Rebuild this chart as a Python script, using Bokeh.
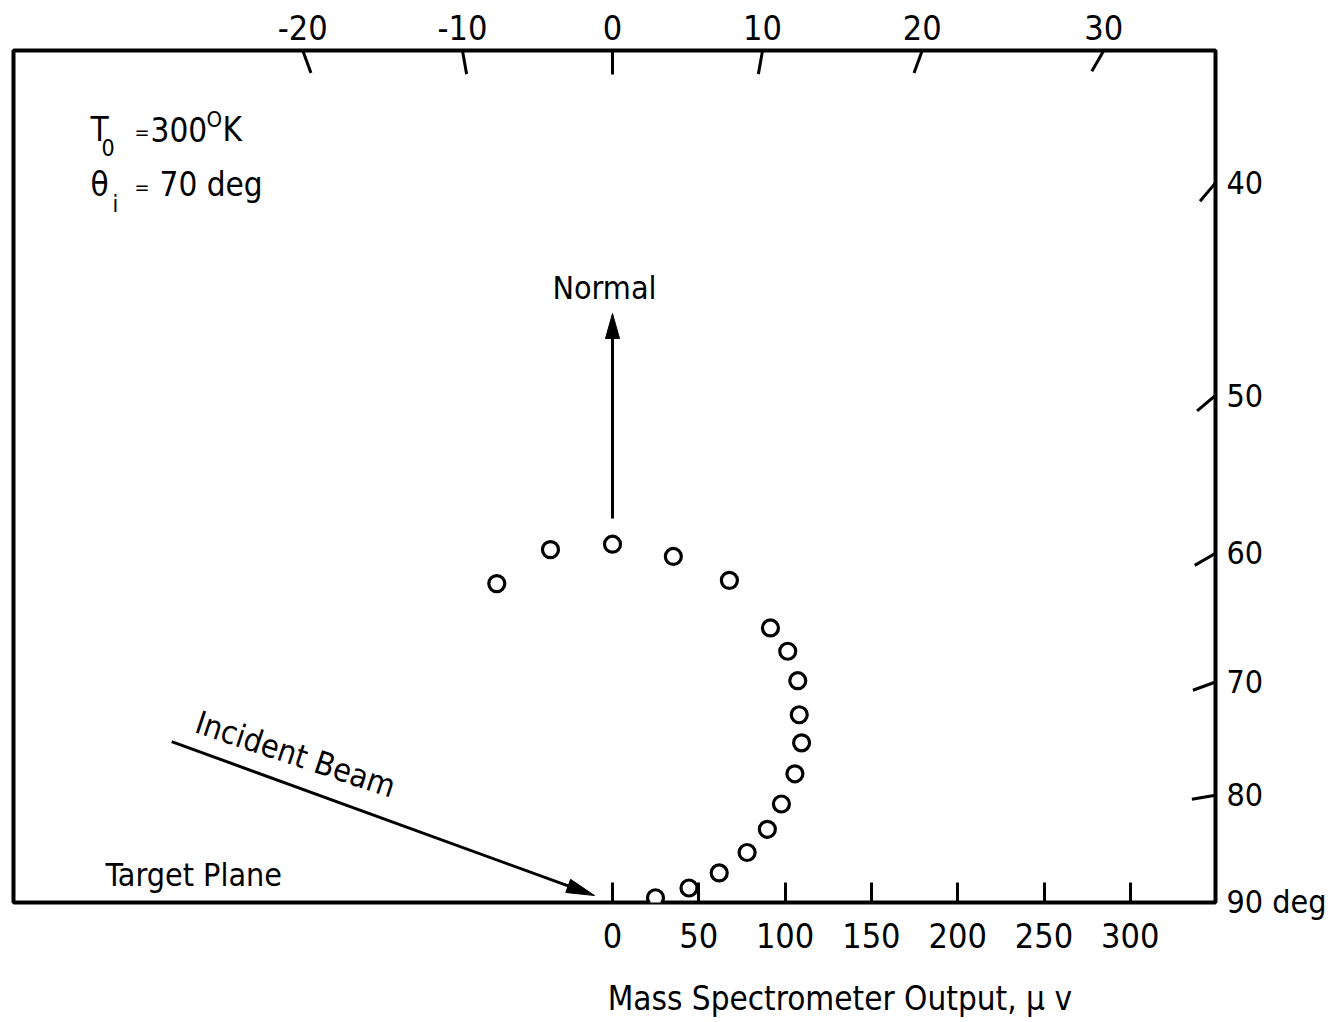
import numpy as np
from bokeh.plotting import figure
from bokeh.models import Range1d, LinearAxis, FixedTicker
from bokeh.core.properties import value
from bokeh.embed import file_html
from bokeh.resources import INLINE

# ---------------- data ----------------
angles_deg = [-20, -10, 0, 10, 20, 30, 35, 40, 45, 50, 55, 60, 65, 70, 75, 80, 85]
output_uv = [196, 207, 207, 203, 198, 183, 177, 167, 153, 143, 129, 113, 99, 83, 64, 45, 25]

top_tick_angles = [-20, -10, 0, 10, 20, 30]
top_tick_labels = ["-20", "-10", "0", "10", "20", "30"]
right_tick_angles = [40, 50, 60, 70, 80, 90]
right_tick_labels = ["40", "50", "60", "70", "80", "90 deg"]
output_ticks = [0, 50, 100, 150, 200, 250, 300]
x_title = "Mass Spectrometer Output,  \u00b5 v"
incidence_deg = 70

# ---------------- geometry ----------------
S = 1.726                      # px per microvolt
X0, X1 = -599 / S, 603 / S
Y0, Y1 = -1 / S, 851 / S
FONT = "DejaVu Sans Condensed, Liberation Sans"

def px(d):
    return d / S

p = figure(frame_width=1202, frame_height=852,
           x_range=Range1d(X0, X1), y_range=Range1d(Y0, Y1),
           x_axis_location="below", y_axis_location=None,
           toolbar_location=None, output_backend="svg",
           min_border_left=13, min_border_top=50, min_border_right=108,
           min_border_bottom=118, background_fill_color="white",
           border_fill_color="white")
p.grid.grid_line_color = None
p.outline_line_color = "black"
p.outline_line_width = 4
p.outline_line_alpha = 1.0

def style_axis(a, size, standoff):
    a.axis_line_color = None
    a.minor_tick_line_color = None
    a.major_label_text_font = FONT
    a.major_label_text_font_size = f"{size}px"
    a.major_label_text_color = "black"
    a.major_label_standoff = standoff

# bottom axis (output)
ax = p.xaxis[0]
ax.ticker = FixedTicker(ticks=output_ticks)
style_axis(ax, 34, 20)
ax.major_tick_in = 20
ax.major_tick_out = 0
ax.major_tick_line_width = 3

# second below axis carrying the output title
title_pos = round(px(844 - 612), 4)
tt = LinearAxis(ticker=FixedTicker(ticks=[title_pos]),
                major_label_overrides={title_pos: x_title})
style_axis(tt, 33, 28)
tt.major_tick_line_color = None
tt.major_tick_in = 0
tt.major_tick_out = 0
p.add_layout(tt, "below")

# top angular axis
top_pos = [round(Y1 * np.tan(np.radians(a)), 6) for a in top_tick_angles]
tax = LinearAxis(ticker=FixedTicker(ticks=top_pos),
                 major_label_overrides={t: l for t, l in zip(top_pos, top_tick_labels)})
style_axis(tax, 34, 11)
tax.major_tick_in = 0
tax.major_tick_out = 0
tax.major_tick_line_color = None
p.add_layout(tax, "above")

# right angular axis
right_pos = [round(X1 * np.cos(np.radians(a)) / np.sin(np.radians(a)), 6) for a in right_tick_angles]
rax = LinearAxis(ticker=FixedTicker(ticks=right_pos),
                 major_label_overrides={t: l for t, l in zip(right_pos, right_tick_labels)})
style_axis(rax, 32, 11)
rax.major_tick_in = 0
rax.major_tick_out = 0
rax.major_tick_line_color = None
p.add_layout(rax, "right")

# slanted radial tick marks on the top and right edges
TL = px(24)
tx0, ty0, tx1, ty1 = [], [], [], []
for a, xp in zip(top_tick_angles, top_pos):
    r = np.radians(a)
    tx0.append(xp); ty0.append(Y1)
    tx1.append(xp - TL * np.sin(r)); ty1.append(Y1 - TL * np.cos(r))
for a, yp in zip(right_tick_angles, right_pos):
    if a >= 90:
        continue
    r = np.radians(a)
    tx0.append(X1); ty0.append(yp)
    tx1.append(X1 - TL * np.sin(r)); ty1.append(yp - TL * np.cos(r))
p.segment(tx0, ty0, tx1, ty1, line_color="black", line_width=3)

# data points (polar: angle from the normal, radius = output)
th = np.radians(angles_deg)
r = np.array(output_uv, dtype=float)
p.scatter(r * np.sin(th), r * np.cos(th), marker="circle", size=16,
          line_color="black", line_width=3.2, fill_color="white")

# Normal arrow
n_tail, n_tip = px(901 - 518), px(901 - 313)
n_hl, n_hw = px(25), px(7)
p.segment([0], [n_tail], [0], [n_tip - n_hl], line_color="black", line_width=3)
p.patch([0, -n_hw, n_hw], [n_tip, n_tip - n_hl, n_tip - n_hl], color="black")

# Incident beam arrow
ia = np.radians(incidence_deg)
u = np.array([np.sin(ia), -np.cos(ia)])
nrm = np.array([np.cos(ia), np.sin(ia)])
tip = np.array([px(594 - 612), px(901 - 895)])
start = tip - px(450) * u
hb = tip - px(28) * u
p.segment([start[0]], [start[1]], [hb[0]], [hb[1]], line_color="black", line_width=3)
hw = px(7)
p.patch([tip[0], hb[0] + hw * nrm[0], hb[0] - hw * nrm[0]],
        [tip[1], hb[1] + hw * nrm[1], hb[1] - hw * nrm[1]], color="black")

def put(text, x, y, size, style="normal", align="left", angle=0.0):
    p.text(x=[px(x - 612)], y=[px(901 - y)], text=[text], text_font=value(FONT),
           text_font_size=value(f"{size}px"), text_font_style=style,
           text_align=align, text_baseline="middle", text_color="black", angle=angle)

# labels (y = vertical centre of capitals)
put("Normal", 604, 287, 32, align="center")
put("Target Plane", 105, 874, 32)
put("Incident Beam", 295, 754, 32, align="center", angle=-np.radians(18.5))

put("T", 90, 129, 33)
put("0", 101, 147, 23)
put("=", 134, 131, 20)
put("300", 150, 129, 33)
put("O", 206, 119, 22)
put("K", 222, 129, 33)
put("\u03b8", 90, 184, 33)
put("i", 112, 203, 23)
put("=", 134, 186, 20)
put("70 deg", 159, 184, 33)

open("out.html", "w").write(file_html(p, INLINE))
